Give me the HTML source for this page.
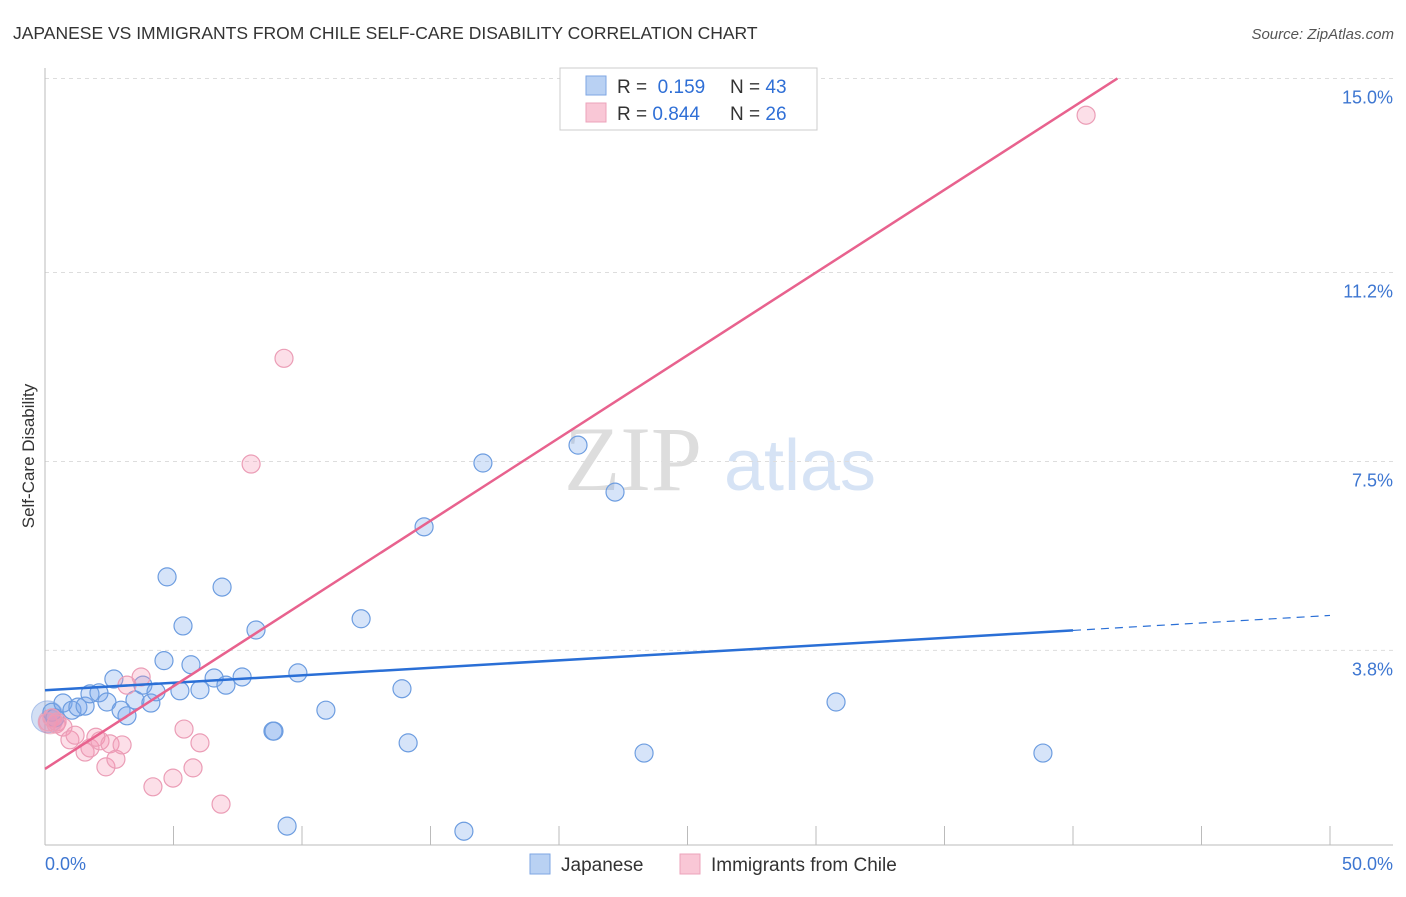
<!DOCTYPE html>
<html><head><meta charset="utf-8"><style>
body{margin:0;background:#fff;font-family:"Liberation Sans",sans-serif;}
</style></head><body>
<svg id="chart" width="1406" height="892" xmlns="http://www.w3.org/2000/svg" font-family="Liberation Sans, sans-serif">
<text x="13" y="39" font-size="17.5" fill="#333">JAPANESE VS IMMIGRANTS FROM CHILE SELF-CARE DISABILITY CORRELATION CHART</text>
<text x="1394" y="39" font-size="15" fill="#555" font-style="italic" text-anchor="end">Source: ZipAtlas.com</text>
<g>
<text x="633" y="490" font-size="92" fill="#ddd" font-family="Liberation Serif, serif" text-anchor="middle">ZIP</text>
<text x="800" y="490" font-size="72" fill="#d6e3f5" text-anchor="middle">atlas</text>
</g>
<g id="grid"></g>
<g id="axes"></g>
<g id="marks"></g>
<text transform="translate(34,456) rotate(-90)" font-size="17" fill="#333" text-anchor="middle">Self-Care Disability</text>
<g>
<rect x="560" y="68" width="257" height="62" fill="#fff" stroke="#ccc"/>
<rect x="586" y="76" width="20" height="19" fill="#b9d1f3" stroke="#7ea6e3"/>
<rect x="586" y="103" width="20" height="19" fill="#f9c7d6" stroke="#eca3bb"/>
<text x="617" y="93" font-size="19" fill="#333">R = <tspan fill="#2f6fd6">&#160;0.159</tspan><tspan x="730">N = </tspan><tspan fill="#2f6fd6">43</tspan></text>
<text x="617" y="120" font-size="19" fill="#333">R = <tspan fill="#2f6fd6">0.844</tspan><tspan x="730">N = </tspan><tspan fill="#2f6fd6">26</tspan></text>
</g>
<g>
<rect x="530" y="854" width="20" height="20" fill="#b9d1f3" stroke="#7ea6e3"/>
<text x="561" y="871" font-size="19" fill="#333">Japanese</text>
<rect x="680" y="854" width="20" height="20" fill="#f9c7d6" stroke="#eca3bb"/>
<text x="711" y="871" font-size="19" fill="#333">Immigrants from Chile</text>
</g>
</svg>
<script>
const yTicks=[3.8,7.5,11.2,15.0];
const yTickLabels=["3.8%","7.5%","11.2%","15.0%"];
const xTickCount=[0,5,10,15,20,25,30,35,40,45,50];
const xLabels=["0.0%","50.0%"];
const japaneseX=[0.27,0.39,0.70,1.05,1.28,1.56,1.75,2.10,2.41,2.68,2.96,3.19,3.50,3.81,4.12,4.32,4.63,4.75,5.25,5.37,5.68,6.03,6.58,6.89,7.04,7.67,8.21,8.87,8.91,9.42,9.84,10.93,12.30,13.89,14.13,14.75,16.30,17.04,20.74,22.18,23.31,30.78,38.83];
const japaneseY=[2.59,2.48,2.77,2.63,2.69,2.71,2.95,2.97,2.79,3.24,2.63,2.52,2.83,3.12,2.77,2.99,3.60,5.24,3.01,4.28,3.52,3.03,3.26,5.04,3.12,3.28,4.20,2.22,2.22,0.36,3.36,2.63,4.42,3.05,1.99,6.22,0.26,7.47,7.82,6.90,1.79,2.79,1.79];
const chileX=[0.12,0.27,0.43,0.47,0.70,0.97,1.17,1.56,1.75,1.98,2.14,2.37,2.53,2.76,3.00,3.19,3.74,4.20,4.98,5.41,5.76,6.03,6.85,8.02,9.30,40.51];
const chileY=[2.40,2.48,2.36,2.40,2.30,2.05,2.14,1.81,1.89,2.10,2.03,1.52,1.97,1.67,1.95,3.12,3.28,1.13,1.30,2.26,1.50,1.99,0.79,7.45,9.52,14.28];
const japaneseTrend=[3.02,0.0293]; // intercept, slope
const chileTrend=[1.48,0.324];
const X0=45,X1=1330,XMAX=50,Y0=844.5,YPX=51.07;
const sx=v=>X0+(X1-X0)*v/XMAX;
const sy=v=>Y0-v*YPX;
const NS="http://www.w3.org/2000/svg";
function mk(tag,attrs,parent){const e=document.createElementNS(NS,tag);for(const k in attrs)e.setAttribute(k,attrs[k]);document.getElementById(parent).appendChild(e);return e;}
yTicks.forEach((t,i)=>{
 const g=mk('line',{x1:45,x2:1393,y1:sy(t),y2:sy(t),stroke:'#ddd','stroke-dasharray':'4,4'},'grid');
 
 
 const l=mk('text',{x:1393,y:sy(t)+25,'font-size':18,fill:'#3d76d1','text-anchor':'end'},'axes');
 l.textContent=yTickLabels[i];
 
 
});
const ax=mk('line',{x1:45,x2:45,y1:68,y2:845,stroke:'#bbb'},'axes');


const bx=mk('line',{x1:45,x2:1393,y1:845,y2:845,stroke:'#bbb'},'axes');


xTickCount.forEach(t=>{
 const tk=mk('line',{x1:sx(t),x2:sx(t),y1:826,y2:845,stroke:'#bbb'},'axes');
 
 
});
const xl0=mk('text',{x:45,y:870,'font-size':18,fill:'#3d76d1'},'axes');xl0.textContent=xLabels[0];


const xl1=mk('text',{x:1393,y:870,'font-size':18,fill:'#3d76d1','text-anchor':'end'},'axes');xl1.textContent=xLabels[1];


const b1=mk('circle',{cx:sx(0.1),cy:sy(2.5),r:16,fill:'rgba(110,150,220,0.3)',stroke:'rgba(110,150,220,0.5)'},'marks');


const b2=mk('circle',{cx:sx(0.2),cy:sy(2.4),r:12,fill:'rgba(230,130,160,0.3)',stroke:'rgba(230,130,160,0.5)'},'marks');


japaneseX.forEach((x,i)=>{
 const c=mk('circle',{cx:sx(x),cy:sy(japaneseY[i]),r:9,fill:'rgba(120,165,235,0.3)',stroke:'#6d9de0','stroke-width':1.2},'marks');
 
 
});
chileX.forEach((x,i)=>{
 const c=mk('circle',{cx:sx(x),cy:sy(chileY[i]),r:9,fill:'rgba(245,150,180,0.3)',stroke:'#eb9db6','stroke-width':1.2},'marks');
 
 
});
const jt=mk('line',{x1:sx(0),y1:sy(japaneseTrend[0]),x2:sx(40),y2:sy(japaneseTrend[0]+japaneseTrend[1]*40),stroke:'#2a6fd6','stroke-width':2.5},'marks');


const jd=mk('line',{x1:sx(40),y1:sy(japaneseTrend[0]+japaneseTrend[1]*40),x2:sx(50),y2:sy(japaneseTrend[0]+japaneseTrend[1]*50),stroke:'#2a6fd6','stroke-width':1.2,'stroke-dasharray':'8,6'},'marks');


const xe=(15-chileTrend[0])/chileTrend[1];
const ct=mk('line',{x1:sx(0),y1:sy(chileTrend[0]),x2:sx(xe),y2:sy(15),stroke:'#e8628e','stroke-width':2.5},'marks');


</script>
</body></html>
